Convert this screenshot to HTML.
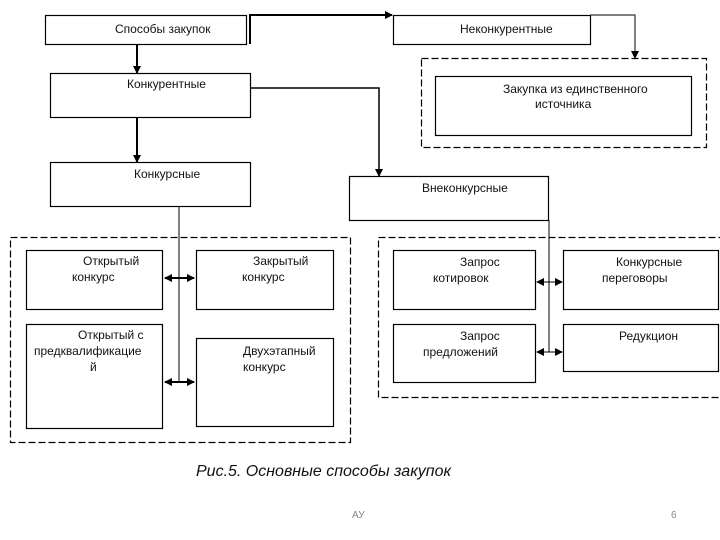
<!DOCTYPE html>
<html><head><meta charset="utf-8"><style>
html,body{margin:0;padding:0;background:#fff;width:720px;height:540px;overflow:hidden}
svg{display:block}
text{font-family:"Liberation Sans",sans-serif;font-size:12px;fill:#111}
</style></head><body>
<svg width="720" height="540" viewBox="0 0 720 540">
<defs>
<marker id="a" markerWidth="8" markerHeight="8" refX="7" refY="4" orient="auto" markerUnits="userSpaceOnUse"><path d="M0,0 L8,4 L0,8 z" fill="#000"/></marker>
<marker id="s" markerWidth="8" markerHeight="8" refX="1" refY="4" orient="auto" markerUnits="userSpaceOnUse"><path d="M8,0 L0,4 L8,8 z" fill="#000"/></marker>
</defs>
<g fill="none" stroke="#000" stroke-width="1.2">
<rect x="45.5" y="15.5" width="201" height="29"/>
<rect x="393.5" y="15.5" width="197" height="29"/>
<rect x="421.5" y="58.5" width="285" height="89" stroke-dasharray="7,3"/>
<rect x="435.5" y="76.5" width="256" height="59"/>
<rect x="50.5" y="73.5" width="200" height="44"/>
<rect x="349.5" y="176.5" width="199" height="44"/>
<rect x="50.5" y="162.5" width="200" height="44"/>
<rect x="10.5" y="237.5" width="340" height="205" stroke-dasharray="7,3"/>
<rect x="378.5" y="237.5" width="345" height="160" stroke-dasharray="7,3"/>
<rect x="26.5" y="250.5" width="136" height="59"/>
<rect x="196.5" y="250.5" width="137" height="59"/>
<rect x="26.5" y="324.5" width="136" height="104"/>
<rect x="196.5" y="338.5" width="137" height="88"/>
<rect x="393.5" y="250.5" width="142" height="59"/>
<rect x="563.5" y="250.5" width="155" height="59"/>
<rect x="393.5" y="324.5" width="142" height="58"/>
<rect x="563.5" y="324.5" width="155" height="47"/>
</g>
<g fill="none" stroke="#000">
<path d="M250,44 V15 H392" stroke-width="2" marker-end="url(#a)"/>
<path d="M590,15 H635 V58" stroke-width="1" marker-end="url(#a)"/>
<path d="M137,44 V73" stroke-width="2" marker-end="url(#a)"/>
<path d="M137,117 V162" stroke-width="2" marker-end="url(#a)"/>
<path d="M250,88 H379 V176" stroke-width="1.5" marker-end="url(#a)"/>
<path d="M179,206 V383" stroke-width="1"/>
<path d="M165,278 H194" stroke-width="2" marker-start="url(#s)" marker-end="url(#a)"/>
<path d="M165,382 H194" stroke-width="2" marker-start="url(#s)" marker-end="url(#a)"/>
<path d="M549,220 V352" stroke-width="1"/>
<path d="M537,282 H562" stroke-width="1" marker-start="url(#s)" marker-end="url(#a)"/>
<path d="M537,352 H562" stroke-width="1" marker-start="url(#s)" marker-end="url(#a)"/>
</g>
<text x="115" y="33">Способы закупок</text>
<text x="460" y="33">Неконкурентные</text>
<text x="127" y="88">Конкурентные</text>
<text x="503" y="93">Закупка из единственного</text>
<text x="535" y="108">источника</text>
<text x="134" y="178">Конкурсные</text>
<text x="422" y="192">Внеконкурсные</text>
<text x="83" y="265">Открытый</text>
<text x="72" y="281">конкурс</text>
<text x="253" y="265">Закрытый</text>
<text x="242" y="281">конкурс</text>
<text x="78" y="339">Открытый с</text>
<text x="34" y="355">предквалификацие</text>
<text x="90" y="371">й</text>
<text x="243" y="355">Двухэтапный</text>
<text x="243" y="371">конкурс</text>
<text x="460" y="266">Запрос</text>
<text x="433" y="282">котировок</text>
<text x="616" y="266">Конкурсные</text>
<text x="602" y="282">переговоры</text>
<text x="460" y="340">Запрос</text>
<text x="423" y="356">предложений</text>
<text x="619" y="340">Редукцион</text>
<text x="196" y="476" style="font-size:16px;font-style:italic">Рис.5. Основные способы закупок</text>
<text x="352" y="518" style="font-size:10px;fill:#888">АУ</text>
<text x="671" y="518" style="font-size:10px;fill:#888">6</text>
</svg>
</body></html>
